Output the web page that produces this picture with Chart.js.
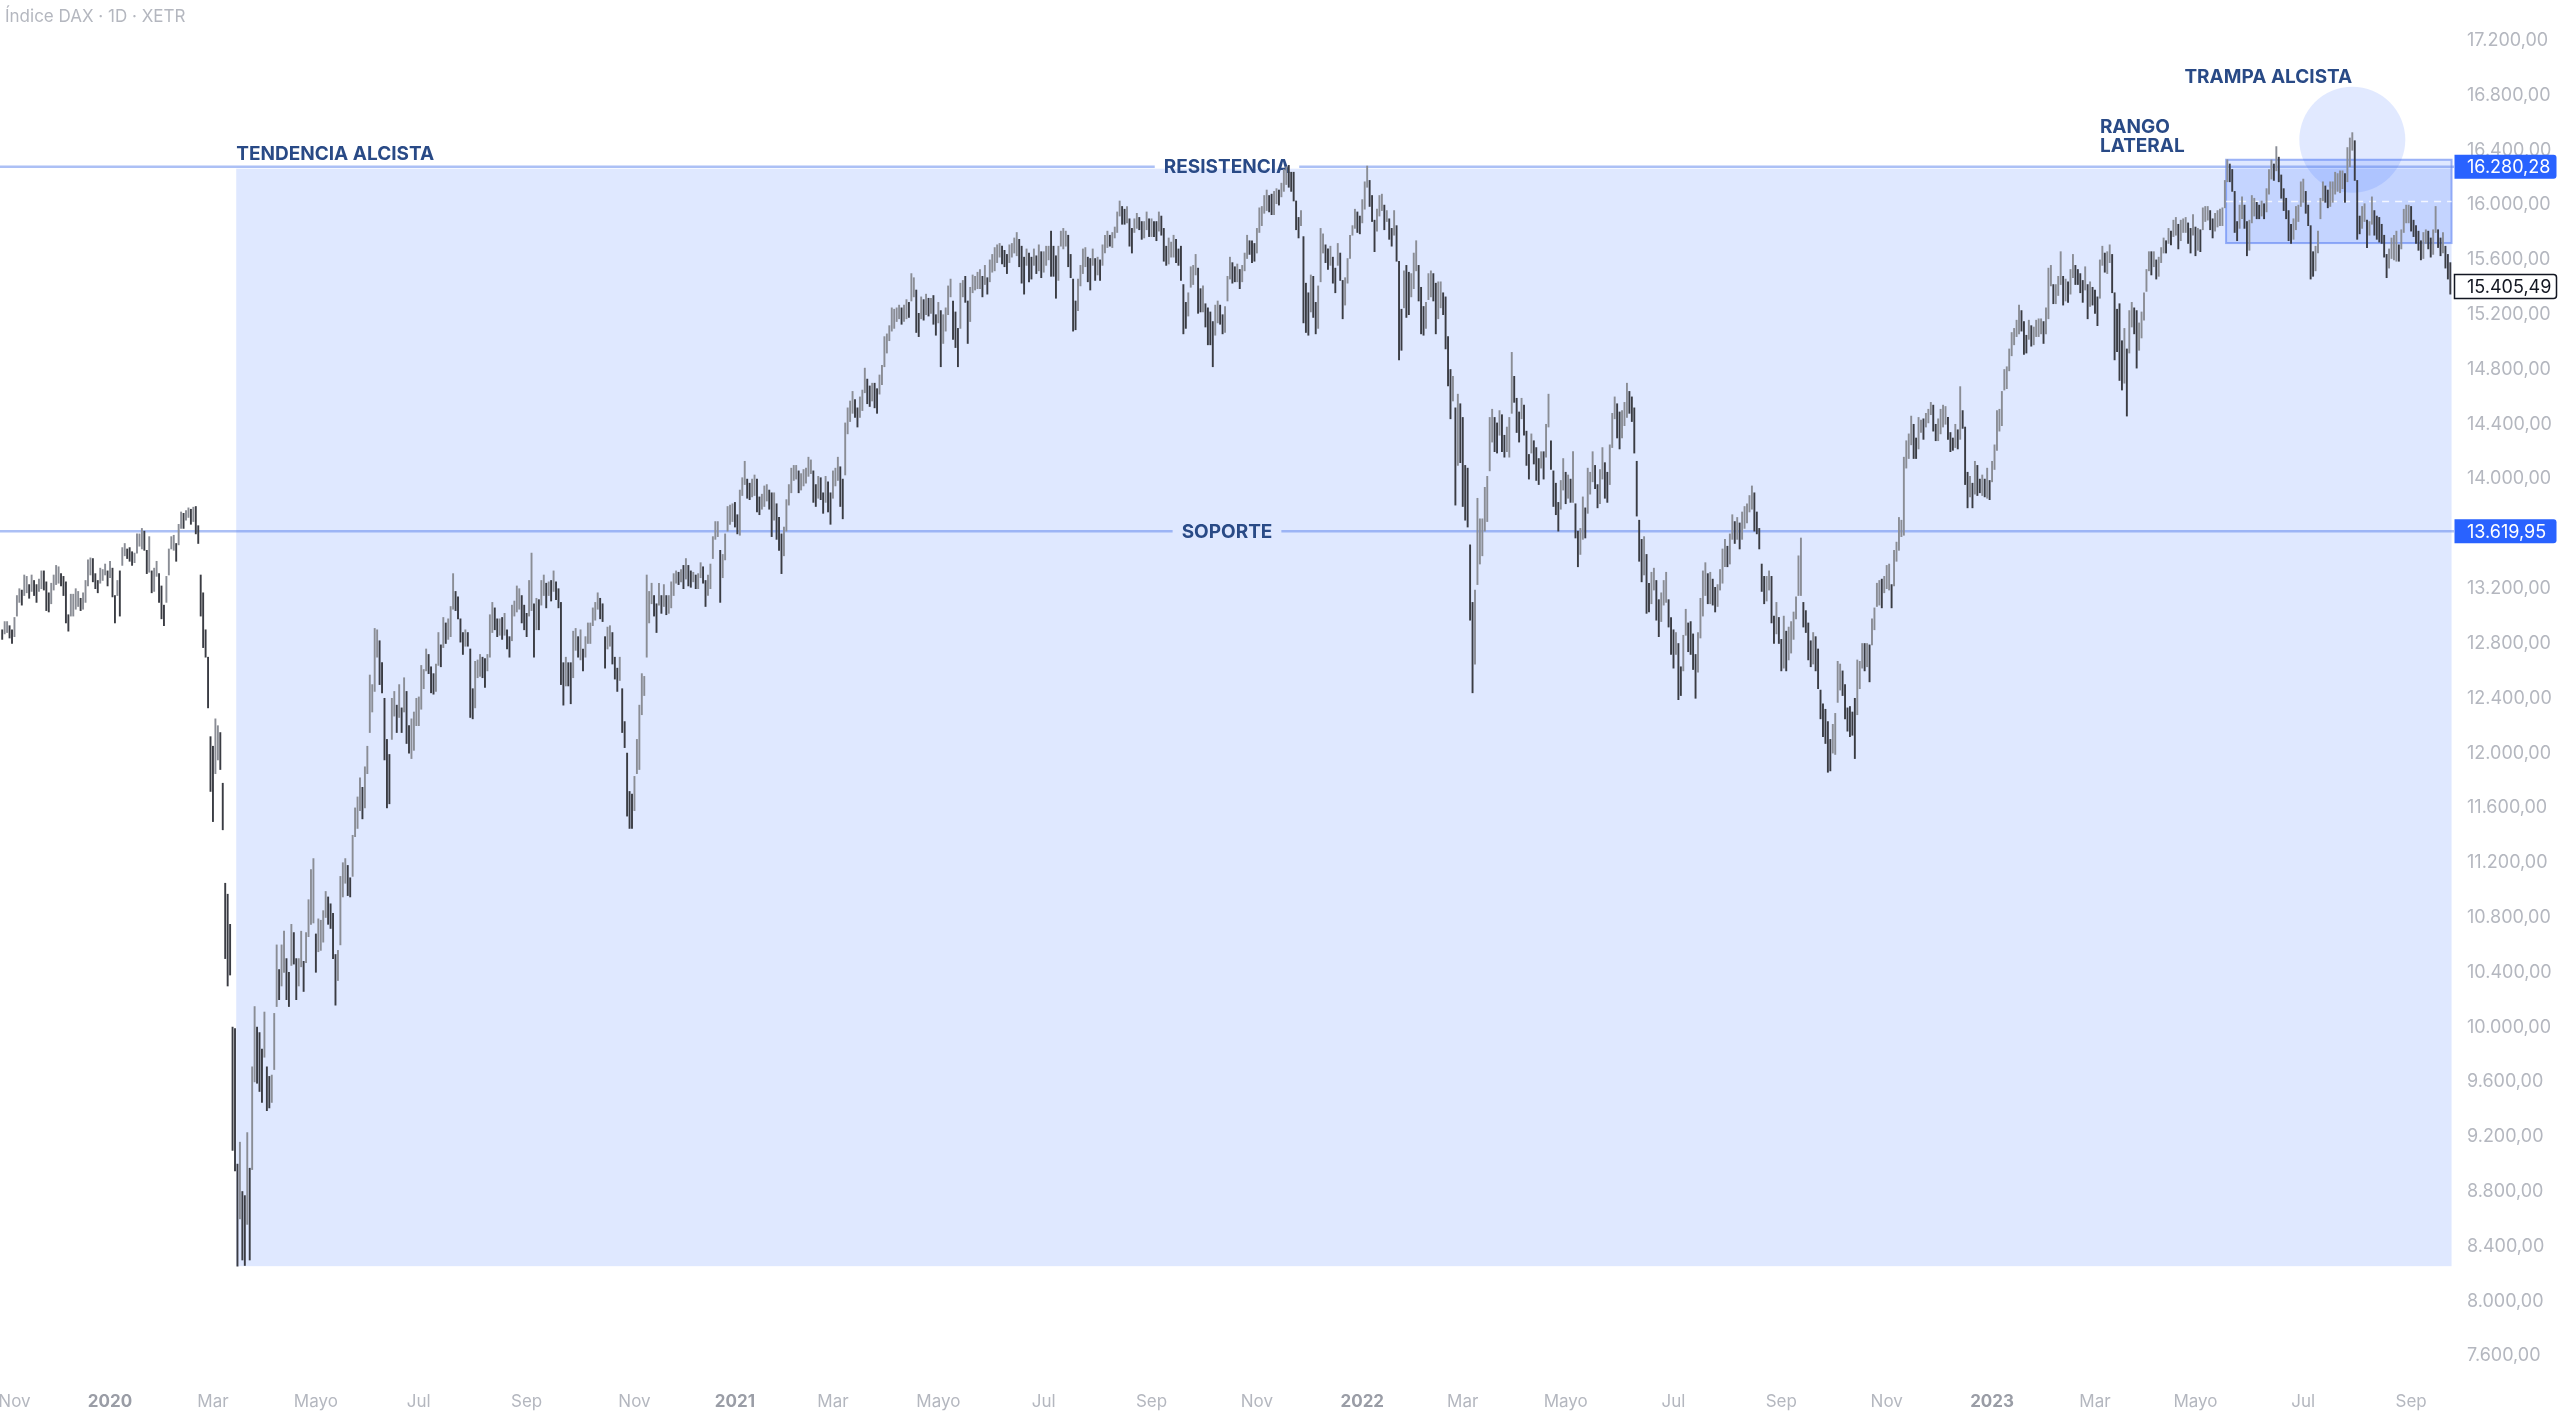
<!DOCTYPE html>
<html>
<head>
<meta charset="utf-8">
<script src="https://cdn.jsdelivr.net/npm/chart.js@4.4.0/dist/chart.umd.min.js"></script>
<style>
  html, body { margin: 0; padding: 0; background: #fff; }
  #wrap { position: relative; width: 2560px; height: 1417px; }
</style>
</head>
<body>
<div id="wrap"><canvas id="daxChart"></canvas></div>
<script>
// Xetra closing days inside the visible range
const holidays = ["2019-12-24","2019-12-25","2019-12-26","2019-12-31","2020-01-01","2020-04-10","2020-04-13",
  "2020-05-01","2020-12-24","2020-12-25","2020-12-31","2021-01-01","2021-04-02","2021-04-05","2021-12-24",
  "2021-12-31","2022-04-15","2022-04-18","2022-12-26","2023-04-07","2023-04-10","2023-05-01"];

// daily [low, high] per trading day, one line per month
const bars2019 = [
  [12830,12900],[12870,12960],[12880,12960],[12840,12930],[12800,12900],
  [12850,12990],[13000,13150],[13100,13200],[13080,13190],[13150,13300],[13170,13290],[13130,13230],[13180,13300],[13150,13260],[13100,13230],[13180,13270],[13200,13330],[13190,13330],[13040,13250],[13030,13170],[13090,13240],[13190,13300],[13230,13370],[13240,13360],[13220,13310],[13150,13290],
  [12950,13250],[12890,13010],[13000,13160],[13000,13160],[13050,13200],[13070,13180],[13040,13130],[13050,13170],[13100,13260],[13220,13410],[13300,13425],[13250,13420],[13200,13310],[13170,13260],[13240,13350],[13260,13340],[13300,13380],[13220,13330]
];
const bars2020 = [
  [13280,13400],[13140,13350],[12950,13150],[13150,13260],[13000,13330],[13370,13500],[13440,13530],[13420,13490],[13400,13500],[13370,13470],[13390,13460],[13460,13600],[13510,13600],[13490,13640],[13480,13620],[13310,13480],[13320,13580],[13170,13330],[13180,13350],[13290,13400],[13100,13310],[12980,13220],
  [12930,13080],[13100,13290],[13300,13490],[13490,13580],[13480,13590],[13400,13530],[13520,13670],[13640,13760],[13640,13750],[13700,13770],[13720,13790],[13670,13780],[13690,13795],[13600,13800],[13530,13660],[13000,13300],[12770,13170],[12700,12900],[12330,12700],[11720,12120],
  [11500,12050],[11850,12250],[11950,12200],[11880,12150],[11440,11780],[10500,11050],[10300,10970],[10380,10750],[9100,10000],[8950,9990],[8255,9000],[8600,9160],[8300,8800],[8260,8770],[8560,9230],[8300,8970],[8960,9710],[9600,10150],[9590,10000],[9530,9960],[9450,9840],[9780,10110],
  [9390,9710],[9410,9640],[9450,9650],[9690,10100],[10150,10600],[10200,10420],[10300,10600],[10400,10700],[10200,10500],[10150,10400],[10450,10750],[10460,10690],[10200,10500],[10300,10500],[10440,10700],[10260,10480],[10470,10690],[10660,10930],[10750,11150],[10760,11230],
  [10400,10680],[10550,10790],[10560,10780],[10620,10850],[10800,10990],[10750,10950],[10720,10900],[10500,10830],[10160,10530],[10340,10560],[10600,11100],[10950,11200],[11050,11230],[10960,11180],[10950,11090],[11100,11400],[11390,11600],[11450,11680],[11580,11820],[11520,11750],
  [11600,11900],[11850,12050],[12150,12570],[12300,12500],[12450,12910],[12700,12900],[12500,12820],[12440,12660],[11950,12400],[11600,12100],[11630,11990],[12100,12400],[12270,12450],[12150,12350],[12260,12500],[12150,12330],[12300,12550],[12070,12450],[12000,12200],[11960,12250],[12020,12300],[12200,12400],
  [12200,12410],[12320,12640],[12470,12610],[12600,12760],[12580,12720],[12440,12630],[12430,12580],[12450,12650],[12640,12880],[12630,12790],[12770,12990],[12800,12950],[12830,12980],[12850,13070],[13050,13310],[13040,13180],[12980,13140],[12810,12980],[12720,12880],[12780,12900],[12780,12880],[12260,12760],[12250,12470],
  [12330,12670],[12550,12680],[12560,12720],[12550,12700],[12480,12690],[12600,12720],[12700,13010],[12880,13100],[12900,13060],[12850,12980],[12860,12980],[12830,12990],[12860,13020],[12760,12900],[12700,12850],[12820,13080],[13000,13110],[13030,13220],[13050,13200],[12950,13150],[12900,13080],
  [12850,13020],[13000,13260],[13040,13460],[12700,13090],[12900,13130],[12900,13120],[13080,13260],[13150,13300],[13060,13240],[13150,13250],[13110,13260],[13180,13330],[13120,13250],[13060,13200],[12500,13100],[12350,12660],[12490,12700],[12490,12660],[12360,12660],[12550,12890],[12750,12910],[12700,12850],
  [12680,12900],[12600,12760],[12700,12850],[12800,12950],[12800,12950],[12930,13060],[12970,13100],[13050,13170],[12980,13130],[12960,13090],[12620,12850],[12760,12920],[12780,12930],[12650,12880],[12540,12700],[12450,12620],[12530,12700],[12150,12470],[12040,12230],[11540,12000],[11450,11720],[11450,11700],
  [11580,11830],[11850,12100],[11880,12350],[12280,12580],[12420,12560],[12700,13300],[12950,13180],[13090,13240],[13000,13150],[12880,13090],[13080,13240],[13020,13150],[13070,13230],[13010,13150],[13020,13150],[13060,13250],[13150,13310],[13240,13330],[13230,13320],[13250,13340],[13200,13370],
  [13270,13420],[13220,13370],[13210,13330],[13250,13320],[13200,13300],[13200,13310],[13280,13390],[13240,13360],[13070,13260],[13150,13300],[13200,13380],[13420,13580],[13560,13690],[13580,13690],[13100,13480],[13280,13450],[13410,13600],[13620,13800],[13670,13810],[13690,13820]
];
const bars2021 = [
  [13650,13830],[13600,13740],[13590,13920],[13880,14010],[13960,14130],[13860,14000],[13850,13970],[13870,14000],[13880,14030],[13760,14000],[13740,13870],[13780,13890],[13800,13950],[13840,13960],[13780,13920],[13580,13900],[13700,13900],[13560,13820],[13480,13720],[13310,13600],
  [13440,13650],[13620,13850],[13810,13960],[13900,14080],[13990,14100],[14000,14100],[13900,14060],[13920,14040],[13950,14070],[13970,14080],[14020,14160],[14040,14140],[13830,14060],[13800,13960],[13860,14020],[13850,14010],[13750,13900],[13830,14020],[13760,13980],[13670,13900],
  [13860,14060],[13950,14080],[13990,14160],[13800,14090],[13710,14000],[14030,14410],[14330,14520],[14420,14570],[14480,14640],[14450,14580],[14380,14520],[14450,14600],[14500,14650],[14630,14810],[14550,14730],[14530,14680],[14570,14700],[14520,14700],[14480,14660],[14620,14760],[14690,14830],[14820,15040],[14920,15060],
  [15010,15120],[15080,15250],[15100,15240],[15150,15250],[15170,15270],[15130,15250],[15150,15270],[15170,15310],[15180,15290],[15300,15500],[15330,15470],[15070,15380],[15040,15210],[15170,15330],[15160,15310],[15200,15350],[15190,15320],[15210,15320],[15130,15340],[15050,15200],
  [15140,15290],[14820,15230],[14990,15200],[15080,15250],[15200,15410],[15330,15460],[15020,15300],[14960,15220],[14820,15100],[15100,15430],[15330,15450],[15290,15480],[14990,15300],[15150,15400],[15360,15490],[15380,15480],[15390,15510],[15390,15530],[15330,15480],[15420,15560],[15350,15470],
  [15440,15600],[15510,15640],[15520,15690],[15580,15710],[15620,15720],[15570,15700],[15550,15670],[15500,15640],[15580,15710],[15620,15720],[15650,15760],[15630,15800],[15550,15750],[15430,15700],[15350,15620],[15560,15680],[15440,15650],[15460,15620],[15560,15680],[15500,15630],[15520,15710],[15470,15660],
  [15510,15660],[15560,15700],[15600,15700],[15480,15810],[15480,15700],[15320,15630],[15450,15700],[15700,15810],[15680,15830],[15700,15810],[15550,15780],[15470,15640],[15080,15460],[15090,15300],[15230,15460],[15410,15560],[15500,15680],[15550,15690],[15440,15620],[15380,15610],[15560,15680],[15450,15610],
  [15490,15620],[15450,15600],[15560,15710],[15650,15780],[15690,15810],[15700,15780],[15690,15800],[15760,15840],[15800,15950],[15920,16030],[15860,15990],[15860,15970],[15870,15990],[15700,15900],[15650,15830],[15800,15900],[15830,15940],[15820,15910],[15750,15880],[15760,15880],[15820,15950],[15770,15900],
  [15770,15900],[15770,15880],[15740,15880],[15810,15950],[15780,15920],[15590,15830],[15560,15700],[15570,15760],[15620,15730],[15620,15780],[15580,15750],[15560,15680],[15450,15700],[15060,15420],[15100,15290],[15190,15360],[15400,15550],[15420,15560],[15490,15640],[15210,15540],[15220,15390],[15220,15410],
  [15110,15280],[14980,15250],[14980,15220],[14820,15150],[15050,15270],[15140,15300],[15130,15270],[15060,15200],[15070,15260],[15300,15480],[15460,15620],[15430,15580],[15440,15550],[15440,15570],[15390,15530],[15440,15560],[15520,15650],[15610,15780],[15640,15740],[15580,15740],[15590,15720],
  [15650,15830],[15800,15980],[15850,15990],[15940,16070],[15960,16110],[15950,16070],[15930,16080],[15930,16100],[16010,16120],[16000,16110],[16060,16160],[16100,16260],[16150,16280],[16130,16290],[16100,16240],[16030,16240],[15820,16030],[15760,15910],[15850,15960],[15140,15770],[15070,15430],[15050,15360],
  [15220,15490],[15180,15480],[15060,15290],[15100,15410],[15440,15830],[15650,15790],[15580,15710],[15530,15680],[15560,15700],[15430,15620],[15360,15540],[15560,15720],[15450,15650],[15170,15450],[15270,15470],[15430,15610],[15610,15780],[15780,15850],[15830,15970],[15800,15950],[15790,15920]
];
const bars2022 = [
  [15870,16040],[15970,16170],[16130,16285],[15990,16180],[15880,16070],[15660,15890],[15810,15970],[15920,16070],[15960,16080],[15820,16000],[15880,15960],[15750,15900],[15700,15830],[15780,15960],[15590,15850],[14870,15590],[14940,15240],[15250,15520],[15180,15560],[15200,15510],[15330,15500],
  [15390,15650],[15520,15740],[15300,15560],[15060,15400],[15050,15260],[15100,15290],[15310,15500],[15330,15520],[15300,15500],[15060,15430],[15170,15440],[15250,15440],[15200,15360],[14950,15330],[14680,15040],[14440,14800],[14570,14750],[13810,14520],[14100,14620],[14120,14550],
  [13800,14450],[13700,14100],[13650,14080],[12970,13520],[12440,13100],[12650,13190],[13230,13860],[13380,13710],[13440,13710],[13620,13940],[13690,14020],[14060,14450],[14270,14510],[14200,14450],[14190,14410],[14320,14500],[14200,14470],[14160,14320],[14200,14380],[14160,14450],[14480,14925],[14560,14750],[14340,14590],
  [14270,14490],[14440,14590],[14320,14540],[14100,14350],[14000,14180],[14190,14330],[14110,14280],[13990,14230],[13960,14150],[14080,14200],[14000,14200],[14160,14400],[14380,14620],[14070,14280],[13800,14060],[13740,13970],[13620,13830],[13780,13990],[13920,14150],
  [13820,14050],[13860,14030],[13830,14000],[13830,14200],[13570,13820],[13360,13620],[13450,13640],[13560,13870],[13570,13790],[13750,14080],[13890,14050],[13980,14200],[13930,14100],[13790,13960],[13820,14070],[14000,14230],[13860,14120],[13830,14050],[13960,14250],[14230,14480],[14440,14600],[14300,14550],
  [14220,14490],[14300,14500],[14390,14560],[14450,14700],[14480,14640],[14420,14600],[14190,14520],[13730,14130],[13400,13700],[13250,13560],[13300,13580],[13020,13450],[13030,13240],[13090,13320],[13190,13350],[12970,13260],[12850,13120],[12960,13170],[13080,13260],[13100,13320],[12920,13120],[12720,12990],
  [12620,12900],[12720,12880],[12390,12800],[12420,12630],[12600,12860],[12860,13050],[12740,12950],[12720,12960],[12610,12870],[12400,12720],[12590,12880],[12840,13130],[13000,13330],[13150,13390],[13090,13310],[13090,13320],[13080,13270],[13030,13210],[13070,13230],[13190,13340],[13240,13490],
  [13360,13560],[13360,13510],[13380,13600],[13560,13740],[13530,13690],[13560,13720],[13490,13680],[13560,13760],[13640,13800],[13680,13820],[13760,13880],[13780,13950],[13620,13900],[13600,13760],[13490,13640],[13180,13380],[13090,13290],[13110,13290],[13190,13330],[12950,13290],[12800,13000],[12870,13100],[12800,12990],
  [12600,12830],[12620,13000],[12600,12890],[12680,12920],[12730,12960],[12830,13030],[12980,13140],[13150,13440],[13150,13570],[12920,13100],[12880,13040],[12680,12950],[12630,12820],[12650,12880],[12600,12850],[12470,12760],[12250,12460],[12120,12360],[12070,12320],[11860,12230],[11870,12100],[12000,12210],
  [11990,12290],[12370,12670],[12460,12650],[12420,12600],[12250,12500],[12160,12330],[12120,12340],[12130,12300],[11960,12400],[12280,12680],[12470,12670],[12620,12800],[12600,12800],[12630,12800],[12520,12790],[12790,12980],[12900,13060],[13070,13240],[13080,13260],[13060,13270],[13170,13290],
  [13200,13370],[13190,13380],[13060,13230],[13220,13480],[13400,13540],[13480,13720],[13580,13700],[13590,14160],[14080,14280],[14150,14330],[14250,14460],[14150,14400],[14150,14300],[14220,14450],[14340,14430],[14290,14440],[14380,14480],[14410,14510],[14470,14560],[14350,14540],[14280,14400],[14280,14440],
  [14330,14510],[14380,14540],[14400,14530],[14290,14450],[14200,14340],[14210,14300],[14230,14400],[14220,14360],[14290,14675],[14370,14500],[13960,14380],[13790,14050],[13870,14020],[13790,13970],[13890,14130],[13880,14100],[13900,14000],[13880,14030],[13870,14000],[13860,14080],[13850,13990]
];
const bars2023 = [
  [13980,14130],[14070,14250],[14210,14500],[14350,14510],[14390,14640],[14650,14800],[14660,14820],[14790,14950],[14900,15070],[14980,15100],[15040,15160],[15060,15270],[15080,15230],[14910,15150],[14920,15050],[15020,15160],[14970,15120],[14980,15110],[15040,15160],[15040,15170],[15060,15170],[14990,15150],
  [15060,15250],[15170,15540],[15410,15560],[15280,15420],[15280,15420],[15340,15480],[15420,15660],[15270,15480],[15300,15460],[15290,15440],[15350,15530],[15470,15640],[15420,15560],[15420,15530],[15360,15500],[15290,15450],[15380,15550],[15170,15420],[15260,15440],[15270,15400],
  [15210,15380],[15120,15330],[15320,15600],[15560,15700],[15510,15650],[15500,15660],[15580,15710],[15360,15640],[14870,15360],[14930,15240],[14720,15280],[14650,15010],[14700,15100],[14460,14950],[14920,15230],[15110,15290],[15060,15250],[14810,15230],[14940,15140],[15030,15220],[15160,15360],[15370,15530],[15520,15660],
  [15490,15660],[15550,15660],[15460,15600],[15480,15620],[15580,15690],[15650,15760],[15650,15740],[15720,15830],[15710,15810],[15770,15890],[15780,15910],[15680,15860],[15740,15890],[15800,15900],[15800,15910],[15720,15870],[15650,15830],[15780,15930],
  [15630,15840],[15670,15830],[15660,15820],[15820,15980],[15880,15990],[15890,15990],[15820,15960],[15760,15900],[15810,15940],[15840,15960],[15850,15970],[15850,15980],[15980,16180],[16170,16331],[16170,16300],[16100,16260],[15800,16100],[15740,15880],[15830,16000],[15900,16060],[15830,16000],[15630,15880],
  [15670,15890],[15870,16070],[15920,16050],[15900,16020],[15900,16000],[15920,16030],[15900,16010],[15950,16120],[16080,16260],[16190,16330],[16180,16300],[16250,16427],[16170,16350],[16050,16220],[15960,16120],[15900,16050],[15740,15960],[15720,15860],[15750,15900],[15820,15990],[15880,16000],[15990,16170],
  [16020,16190],[15940,16100],[15850,16000],[15460,15850],[15480,15660],[15520,15700],[15650,15810],[15900,16050],[16030,16170],[16020,16140],[15980,16110],[15990,16170],[16020,16170],[16080,16240],[16100,16230],[16090,16250],[16120,16250],[16020,16230],[16170,16420],[16280,16490],[16400,16529],
  [16180,16470],[15750,16180],[15790,15920],[15830,15990],[15880,16010],[15690,15890],[15780,15880],[15860,16060],[15780,15960],[15750,15920],[15730,15910],[15720,15860],[15620,15780],[15470,15640],[15540,15680],[15610,15760],[15600,15780],[15590,15810],[15590,15710],[15680,15820],[15800,15970],[15870,16000],[15870,16000],
  [15810,15990],[15770,15890],[15720,15850],[15670,15810],[15600,15740],[15610,15800],[15720,15820],[15680,15810],[15620,15760],[15640,15820],[15800,15990],[15690,15820],[15630,15760],[15650,15800],[15540,15700],[15460,15640],[15350,15580]
];

const priceTicks = [7600,8000,8400,8800,9200,9600,10000,10400,10800,11200,11600,12000,12400,12800,13200,13600,14000,14400,14800,15200,15600,16000,16400,16800,17200];
const xTickMonths = ["2019-11","2020-01","2020-03","2020-05","2020-07","2020-09","2020-11","2021-01","2021-03","2021-05","2021-07","2021-09","2021-11","2022-01","2022-03","2022-05","2022-07","2022-09","2022-11","2023-01","2023-03","2023-05","2023-07","2023-09"];
const xTickLabels = ["Nov","2020","Mar","Mayo","Jul","Sep","Nov","2021","Mar","Mayo","Jul","Sep","Nov","2022","Mar","Mayo","Jul","Sep","Nov","2023","Mar","Mayo","Jul","Sep"];

// drawn levels and zones (prices / dates)
const resistance = 16280.28;
const support = 13619.95;
const lastPrice = 15405.49;
const trendStart = "2020-03-16", trendLow = 8255;
const rangeStart = "2023-05-19", rangeHigh = 16331, rangeLow = 15723;
const trapDate = "2023-07-31", trapPrice = 16477;
const lateralLabelDate = "2023-03-03";

function tradingDays(from, to) {
  const out = [];
  const d = new Date(from + "T12:00:00Z"), end = new Date(to + "T12:00:00Z");
  while (d <= end) {
    const wd = d.getUTCDay(), s = d.toISOString().slice(0, 10);
    if (wd > 0 && wd < 6 && !holidays.includes(s)) out.push(s);
    d.setUTCDate(d.getUTCDate() + 1);
  }
  return out;
}
const dates = tradingDays("2019-10-25", "2023-09-25");
const bars = [...bars2019, ...bars2020, ...bars2021, ...bars2022, ...bars2023];
const lastIdx = bars.length - 1;
const idxOf = (s) => dates.indexOf(s);
const xTickIdx = xTickMonths.map(m => dates.findIndex(s => s.startsWith(m)));

function fmt(v) {
  const [i, d] = v.toFixed(2).split(".");
  return i.replace(/\B(?=(\d{3})+(?!\d))/g, ".") + "," + d;
}

const barColors = bars.map((b, i) => {
  if (i === 0) return "#3a3c43";
  const p = bars[i - 1];
  return (b[0] + b[1]) >= (p[0] + p[1]) ? "#8a8d95" : "#3a3c43";
});

const NAVY = "#294a86";
const LABEL_FONT = "bold 19px Inter, 'Noto Sans', sans-serif";

function levelLine(ctx, a, y, label) {
  ctx.font = LABEL_FONT;
  const cx = (a.left + a.right) / 2;
  const half = ctx.measureText(label).width / 2 + 9;
  ctx.strokeStyle = "rgba(90,130,235,0.5)";
  ctx.lineWidth = 2.5;
  ctx.beginPath();
  ctx.moveTo(a.left, y); ctx.lineTo(cx - half, y);
  ctx.moveTo(cx + half, y); ctx.lineTo(a.right, y);
  ctx.stroke();
  ctx.fillStyle = NAVY;
  ctx.textAlign = "center";
  ctx.textBaseline = "middle";
  ctx.fillText(label, cx, y + 1);
}

const annotations = {
  id: "annotations",
  beforeDatasetsDraw(chart) {
    const { ctx, chartArea: a, scales: { x, y } } = chart;
    ctx.save();
    const yRes = y.getPixelForValue(resistance);
    const xRight = x.getPixelForValue(lastIdx + 0.5);

    // bullish trend zone
    const tx = x.getPixelForValue(idxOf(trendStart) - 0.5);
    ctx.fillStyle = "rgba(41,98,255,0.15)";
    ctx.fillRect(tx, yRes + 2, xRight - tx, y.getPixelForValue(trendLow) - yRes - 2);

    // sideways range box
    const rx = x.getPixelForValue(idxOf(rangeStart) - 0.5);
    const rTop = y.getPixelForValue(rangeHigh), rBot = y.getPixelForValue(rangeLow);
    ctx.fillStyle = "rgba(41,98,255,0.15)";
    ctx.fillRect(rx, rTop, xRight - rx, rBot - rTop);
    ctx.strokeStyle = "rgba(80,120,240,0.55)";
    ctx.lineWidth = 2;
    ctx.strokeRect(rx, rTop, xRight - rx, rBot - rTop);
    ctx.setLineDash([7, 6]);
    ctx.strokeStyle = "rgba(255,255,255,0.8)";
    ctx.lineWidth = 1.5;
    ctx.beginPath();
    ctx.moveTo(rx, (rTop + rBot) / 2); ctx.lineTo(xRight, (rTop + rBot) / 2);
    ctx.stroke();
    ctx.setLineDash([]);

    // bull trap circle
    const cx = x.getPixelForValue(idxOf(trapDate)), cy = y.getPixelForValue(trapPrice);
    ctx.fillStyle = "rgba(41,98,255,0.14)";
    ctx.beginPath(); ctx.arc(cx, cy, 53, 0, Math.PI * 2); ctx.fill();

    levelLine(ctx, a, yRes, "RESISTENCIA");
    levelLine(ctx, a, y.getPixelForValue(support), "SOPORTE");

    ctx.fillStyle = NAVY;
    ctx.font = LABEL_FONT;
    ctx.textBaseline = "middle";
    ctx.textAlign = "left";
    ctx.fillText("TENDENCIA ALCISTA", tx, yRes - 12);
    const lx = x.getPixelForValue(idxOf(lateralLabelDate));
    ctx.fillText("RANGO", lx, yRes - 39);
    ctx.fillText("LATERAL", lx, yRes - 20);
    ctx.textAlign = "right";
    ctx.fillText("TRAMPA ALCISTA", cx, cy - 62);

    // header
    ctx.font = "17px Inter, 'Noto Sans', sans-serif";
    ctx.fillStyle = "#b4b7bf";
    ctx.textAlign = "left";
    ctx.fillText("Índice DAX · 1D · XETR", 5, 17);
    ctx.restore();
  },
  afterDraw(chart) {
    const { ctx, chartArea: a, scales: { y } } = chart;
    ctx.save();
    ctx.font = "18px Inter, 'Noto Sans', sans-serif";
    ctx.textBaseline = "middle";
    ctx.textAlign = "left";
    const tag = (price, fill, stroke, color) => {
      const py = y.getPixelForValue(price);
      ctx.beginPath();
      ctx.roundRect(a.right + 0.5, py - 12, 102, 24, [0, 3, 3, 0]);
      ctx.fillStyle = fill; ctx.fill();
      if (stroke) { ctx.strokeStyle = stroke; ctx.lineWidth = 1.5; ctx.stroke(); }
      ctx.fillStyle = color;
      ctx.fillText(fmt(price), a.right + 13, py + 1);
    };
    tag(resistance, "#2962ff", null, "#ffffff");
    tag(support, "#2962ff", null, "#ffffff");
    tag(lastPrice, "#ffffff", "#131722", "#131722");
    ctx.restore();
  }
};

new Chart(document.getElementById("daxChart"), {
  type: "bar",
  data: {
    datasets: [{
      data: bars.map((b, i) => ({ x: i, y: b })),
      backgroundColor: barColors,
      borderWidth: 0,
      barThickness: 1.25,
      grouped: false,
    }],
  },
  options: {
    responsive: true,
    maintainAspectRatio: false,
    animation: false,
    layout: { padding: 0 },
    plugins: { legend: { display: false }, tooltip: { enabled: false } },
    scales: {
      x: {
        type: "linear",
        offset: false,
        min: -0.9,
        max: 1000.5,
        grid: { display: false },
        border: { display: false },
        afterBuildTicks: (s) => { s.ticks = xTickIdx.map(v => ({ value: v })); },
        afterFit: (s) => { s.height = 40; s.paddingLeft = 0; s.paddingRight = 0; },
        ticks: {
          autoSkip: false,
          maxRotation: 0,
          padding: 7,
          callback: (v, i) => xTickLabels[i],
          color: (c) => /^\d{4}$/.test(xTickLabels[c.index]) ? "#9a9da6" : "#b4b7bf",
          font: (c) => ({ family: "Inter, 'Noto Sans', sans-serif", size: 17, weight: /^\d{4}$/.test(xTickLabels[c.index]) ? "bold" : "normal" }),
        },
      },
      y: {
        position: "right",
        min: 7446,
        max: 17497,
        grid: { display: false, drawTicks: false },
        border: { display: false },
        afterBuildTicks: (s) => { s.ticks = priceTicks.map(v => ({ value: v })); },
        afterFit: (s) => { s.width = 106; s.paddingTop = 0; s.paddingBottom = 0; },
        ticks: {
          padding: 13,
          color: "#b4b7bf",
          font: { family: "Inter, 'Noto Sans', sans-serif", size: 18 },
          callback: (v) => fmt(v),
        },
      },
    },
  },
  plugins: [annotations],
});
</script>
</body>
</html>
